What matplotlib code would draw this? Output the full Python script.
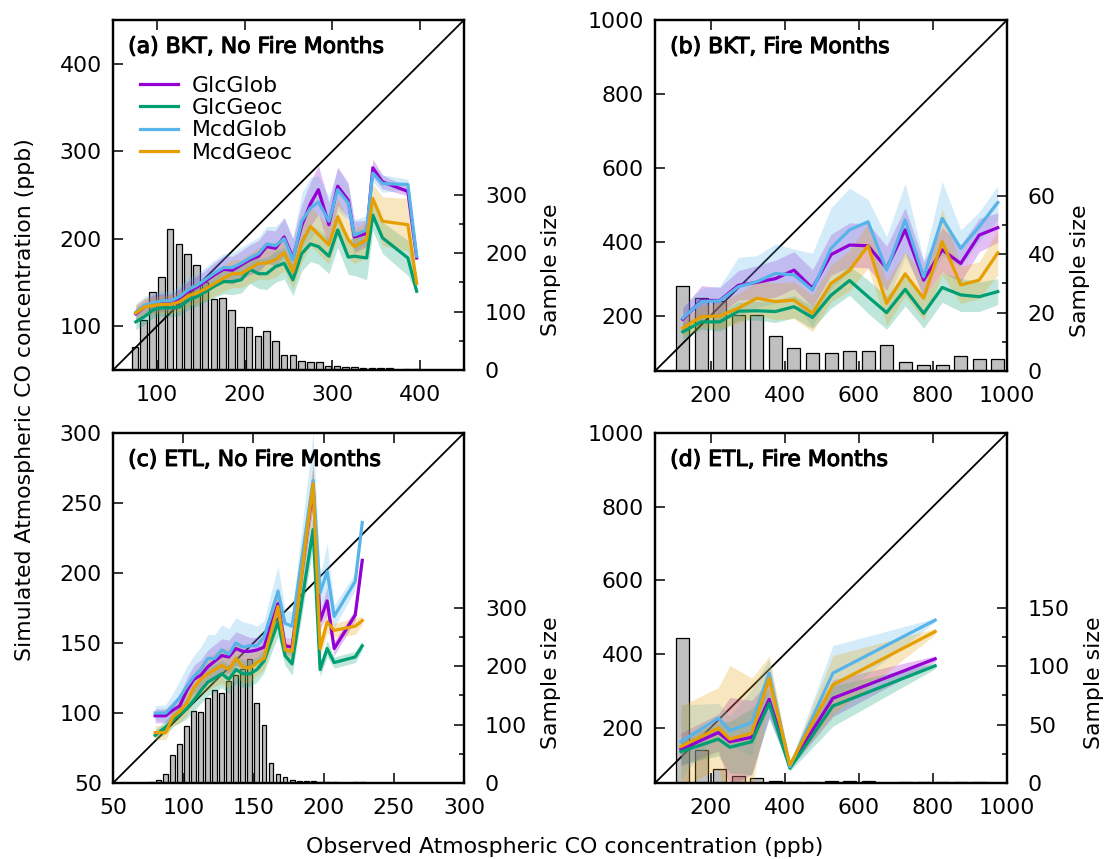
import numpy as np
import matplotlib
matplotlib.use("Agg")
import matplotlib.pyplot as plt
import matplotlib.patheffects as pe

PURPLE = "#9400d3"
GREEN = "#009e73"
CYAN = "#56b4e9"
ORANGE = "#e69f00"
NAMES = ["GlcGlob", "GlcGeoc", "McdGlob", "McdGeoc"]
COLORS = [PURPLE, GREEN, CYAN, ORANGE]
FS = 15.8

# ---- (a) BKT, no fire months ----
a_x = [76, 86, 96, 106, 116, 126, 136, 146, 156, 166, 176, 186, 196, 206, 216, 225,
       235, 245, 255, 265, 275, 284, 296, 306, 318, 325, 339, 346, 357, 386, 396]
a_glcglob = [114, 122, 126, 127, 127, 132, 140, 145, 152, 159, 165, 164, 170, 176, 180, 191,
             189, 202, 178, 215, 240, 256, 216, 260, 244, 202, 206, 281, 265, 254, 178]
a_glcgeoc = [105, 111, 119, 121, 121, 122, 130, 134, 140, 146, 151, 151, 153, 165, 160, 160,
             168, 172, 153, 183, 194, 191, 180, 210, 179, 180, 178, 227, 201, 178, 140]
a_mcdglob = [116, 124, 127, 129, 129, 134, 142, 147, 154, 161, 167, 167, 172, 178, 183, 194,
             192, 200, 176, 220, 235, 242, 220, 256, 241, 204, 210, 275, 263, 262, 180]
a_mcdgeoc = [115, 122, 124, 125, 125, 128, 135, 138, 143, 149, 155, 160, 160, 166, 172, 172,
             176, 184, 162, 195, 214, 205, 193, 225, 199, 191, 199, 246, 220, 216, 149]
a_err_glcglob = [9, 9, 10, 10, 10, 11, 12, 12, 13, 14, 15, 16, 16, 17, 18, 19,
                 20, 22, 22, 24, 25, 28, 25, 22, 20, 18, 15, 10, 8, 5, 3]
a_err_glcgeoc = [9, 9, 9, 10, 10, 10, 11, 11, 12, 13, 14, 15, 15, 16, 17, 18,
                 18, 18, 18, 20, 20, 20, 20, 20, 20, 22, 25, 18, 18, 20, 3]
a_err_mcdglob = [10, 10, 11, 11, 11, 12, 13, 13, 14, 15, 16, 17, 18, 18, 19, 20,
                 22, 24, 25, 32, 35, 30, 28, 24, 20, 18, 16, 10, 10, 6, 3]
a_err_mcdgeoc = [10, 10, 10, 10, 11, 11, 12, 12, 13, 14, 15, 16, 16, 17, 18, 19,
                 20, 20, 20, 22, 22, 22, 22, 22, 20, 20, 20, 17, 28, 30, 3]
a_bin = [75, 85, 95, 105, 115, 125, 135, 145, 155, 165, 175, 185, 195, 205, 215, 225, 235,
         245, 255, 265, 275, 285, 295, 305, 315, 325, 335, 345, 355, 365, 385, 395]
a_count = [39, 86, 133, 160, 241, 216, 198, 180, 150, 122, 123, 103, 73, 73, 58, 66, 50,
           26, 25, 16, 13, 13, 7, 6, 5, 5, 4, 4, 4, 4, 1, 1]

# ---- (b) BKT, fire months ----
b_x = [125, 175, 225, 275, 325, 375, 425, 475, 525, 575, 625, 675, 725, 775, 825, 875, 925, 975]
b_glcglob = [190, 241, 241, 282, 290, 300, 323, 274, 365, 391, 389, 328, 432, 296, 378, 341, 418, 438]
b_glcgeoc = [156, 183, 183, 212, 213, 211, 224, 195, 255, 295, 251, 208, 271, 206, 276, 256, 251, 265]
b_mcdglob = [193, 238, 240, 278, 292, 314, 310, 269, 382, 432, 454, 323, 459, 305, 463, 382, 441, 506]
b_mcdgeoc = [166, 197, 199, 220, 247, 238, 242, 206, 287, 322, 389, 233, 313, 247, 400, 283, 296, 370]
b_err_glcglob = [30, 40, 35, 40, 45, 50, 50, 50, 55, 60, 60, 60, 60, 50, 60, 50, 45, 40]
b_err_glcgeoc = [20, 20, 25, 25, 25, 30, 30, 30, 35, 40, 45, 45, 45, 40, 40, 45, 40, 35]
b_err_mcdglob = [30, 35, 40, 80, 70, 80, 70, 100, 110, 113, 60, 90, 100, 46, 100, 50, 40, 45]
b_err_mcdgeoc = [25, 30, 35, 40, 45, 50, 50, 50, 50, 55, 60, 60, 60, 60, 90, 50, 50, 60]
b_bin = b_x
b_count = [29, 25, 24, 19, 19, 12, 8, 6, 6, 7, 7, 9, 3, 2, 2, 5, 4, 4]

# ---- (c) ETL, no fire months ----
c_x = [80, 87.5, 92.5, 97.5, 102.5, 107.5, 112.5, 117.5, 122.5, 127.5, 132.5, 137.5, 142.5,
       147.5, 152.5, 157.5, 167.5, 172.5, 177.5, 192.5, 197.5, 202.5, 207.5, 222.5, 227.5]
c_glcglob = [98, 98, 102, 105, 116, 124, 127, 133, 137, 141, 140, 146, 144,
             144, 145, 147, 178, 148, 147, 262, 166, 180, 146, 170, 209]
c_glcgeoc = [84, 90, 95, 99, 103, 109, 116, 122, 125, 128, 124, 131, 128,
             128, 131, 137, 165, 141, 135, 231, 131, 146, 136, 140, 148]
c_mcdglob = [100, 100, 105, 111, 119, 126, 131, 139, 139, 145, 142, 150, 147,
             148, 148, 154, 187, 164, 162, 266, 186, 201, 169, 194, 236]
c_mcdgeoc = [86, 86, 97, 101, 107, 118, 124, 128, 131, 134, 131, 139, 133,
             132, 136, 139, 176, 145, 144, 264, 146, 165, 159, 162, 166]
c_err_glcglob = [5, 5, 6, 8, 9, 10, 11, 12, 12, 12, 12, 12, 12, 10, 9, 8, 12, 6, 6, 15, 6, 10, 5, 4, 3]
c_err_glcgeoc = [4, 5, 5, 6, 7, 8, 9, 10, 10, 10, 10, 10, 10, 9, 9, 8, 10, 7, 8, 12, 5, 6, 4, 4, 3]
c_err_mcdglob = [5, 6, 9, 12, 14, 15, 16, 17, 17, 18, 18, 18, 18, 16, 14, 12, 18, 10, 10, 34, 12, 20, 8, 6, 4]
c_err_mcdgeoc = [5, 5, 6, 8, 9, 10, 11, 12, 12, 13, 14, 12, 12, 10, 9, 8, 14, 6, 6, 15, 6, 8, 5, 6, 3]
c_bin = [77.5, 82.5, 87.5, 92.5, 97.5, 102.5, 107.5, 112.5, 117.5, 122.5, 127.5, 132.5, 137.5,
         142.5, 147.5, 152.5, 157.5, 162.5, 167.5, 172.5, 177.5, 182.5, 187.5, 192.5, 197.5,
         202.5, 207.5, 222.5, 227.5]
c_count = [1, 5, 15, 48, 66, 98, 124, 122, 145, 160, 155, 175, 185,
           195, 212, 137, 99, 34, 15, 10, 5, 4, 4, 4, 2,
           2, 1, 2, 1]

# ---- (d) ETL, fire months ----
d_x = [120, 221, 252, 311, 358, 414, 530, 806]
d_glcglob = [141, 187, 162, 174, 277, 96, 280, 387]
d_glcgeoc = [135, 169, 147, 162, 266, 90, 259, 368]
d_mcdglob = [162, 226, 192, 214, 348, 94, 348, 492]
d_mcdgeoc = [149, 199, 169, 185, 334, 99, 316, 461]
d_err_glcglob = [45, 50, 120, 100, 50, 8, 50, 8]
d_err_glcgeoc = [35, 45, 70, 90, 40, 8, 55, 8]
d_err_mcdglob = [100, 40, 40, 90, 40, 8, 75, 5]
d_err_mcdgeoc = [110, 110, 200, 150, 60, 8, 80, 8]
d_bin = [125, 175, 225, 275, 325, 375, 425, 475, 525, 575, 625, 725, 775, 825, 875, 925]
d_count = [124, 28, 12, 6, 4, 2, 1, 1, 2, 2, 2, 1, 1, 1, 1, 1]


def panel(ax, lim, ticks, x, ys, errs, bx, bn, bw, slim, sticks, sminor, title, legend=False):
    ax2 = ax.twinx()
    ax.set_zorder(ax2.get_zorder() + 1)
    ax.patch.set_visible(False)
    ax2.bar(bx, bn, width=bw, color="#c0c0c0", edgecolor="black", linewidth=0.9)
    ax2.set_ylim(*slim)
    ax2.set_yticks(sticks)
    ax2.set_yticks(sminor, minor=True)
    ax2.tick_params(axis="y", which="major", direction="in", length=7, width=1.1,
                    pad=15, labelsize=FS)
    ax2.tick_params(axis="y", which="minor", direction="in", length=3.5, width=1.1)
    ax2.set_ylabel("Sample size", fontsize=FS, labelpad=10)
    ax2.yaxis.label.set_y(0.285)

    ax.plot(lim, lim, color="black", lw=1.3, zorder=1)
    for y, e, c in zip(ys, errs, COLORS):
        y = np.array(y, float); e = np.array(e, float)
        ax.fill_between(x, y - e, y + e, color=c, alpha=0.25, lw=0, zorder=2)
    for y, c, n in zip(ys, COLORS, NAMES):
        ax.plot(x, y, color=c, lw=2.3, label=n, zorder=3)

    ax.set_xlim(*lim); ax.set_ylim(*lim)
    ax.set_xticks(ticks); ax.set_yticks(ticks)
    ax.tick_params(axis="both", direction="in", length=7, width=1.1, labelsize=FS,
                   top=True, right=False)
    ax.tick_params(axis="x", pad=11)
    ax.tick_params(axis="y", pad=8)
    for a in (ax, ax2):
        for s in a.spines.values():
            s.set_linewidth(1.6)
    ax.text(0.043, 0.923, title, transform=ax.transAxes, fontsize=FS, ha="left", va="center",
            path_effects=[pe.withStroke(linewidth=0.8, foreground="black")], zorder=5)
    if legend:
        ax.legend(loc="upper left", bbox_to_anchor=(0.077, 0.84), frameon=False, fontsize=FS,
                  handlelength=1.75, handletextpad=0.6, labelspacing=0.1,
                  borderpad=0, borderaxespad=0)


fig = plt.figure(figsize=(11.07, 8.59), dpi=100)
axa = fig.add_axes([0.1021, 0.5693, 0.3171, 0.4075])
axb = fig.add_axes([0.5917, 0.5681, 0.3180, 0.4086])
axc = fig.add_axes([0.1021, 0.0885, 0.3171, 0.4075])
axd = fig.add_axes([0.5917, 0.0885, 0.3180, 0.4075])

panel(axa, (50, 450), [100, 200, 300, 400], a_x,
      [a_glcglob, a_glcgeoc, a_mcdglob, a_mcdgeoc],
      [a_err_glcglob, a_err_glcgeoc, a_err_mcdglob, a_err_mcdgeoc],
      a_bin, a_count, 7.5, (0, 600), [0, 100, 200, 300], [50, 150, 250],
      "(a) BKT, No Fire Months", legend=True)
panel(axb, (50, 1000), [200, 400, 600, 800, 1000], b_x,
      [b_glcglob, b_glcgeoc, b_mcdglob, b_mcdgeoc],
      [b_err_glcglob, b_err_glcgeoc, b_err_mcdglob, b_err_mcdgeoc],
      b_bin, b_count, 35, (0, 120), [0, 20, 40, 60], [10, 30, 50],
      "(b) BKT, Fire Months")
panel(axc, (50, 300), [50, 100, 150, 200, 250, 300], c_x,
      [c_glcglob, c_glcgeoc, c_mcdglob, c_mcdgeoc],
      [c_err_glcglob, c_err_glcgeoc, c_err_mcdglob, c_err_mcdgeoc],
      c_bin, c_count, 3.5, (0, 600), [0, 100, 200, 300], [50, 150, 250],
      "(c) ETL, No Fire Months")
panel(axd, (50, 1000), [200, 400, 600, 800, 1000], d_x,
      [d_glcglob, d_glcgeoc, d_mcdglob, d_mcdgeoc],
      [d_err_glcglob, d_err_glcgeoc, d_err_mcdglob, d_err_mcdgeoc],
      d_bin, d_count, 35, (0, 300), [0, 50, 100, 150], [25, 75, 125],
      "(d) ETL, Fire Months")

fig.text(0.0226, 0.535, "Simulated Atmospheric CO concentration (ppb)", rotation=90,
         ha="center", va="center", fontsize=FS)
fig.text(0.510, 0.014, "Observed Atmospheric CO concentration (ppb)",
         ha="center", va="center", fontsize=FS)

fig.savefig("out.png", dpi=100)
